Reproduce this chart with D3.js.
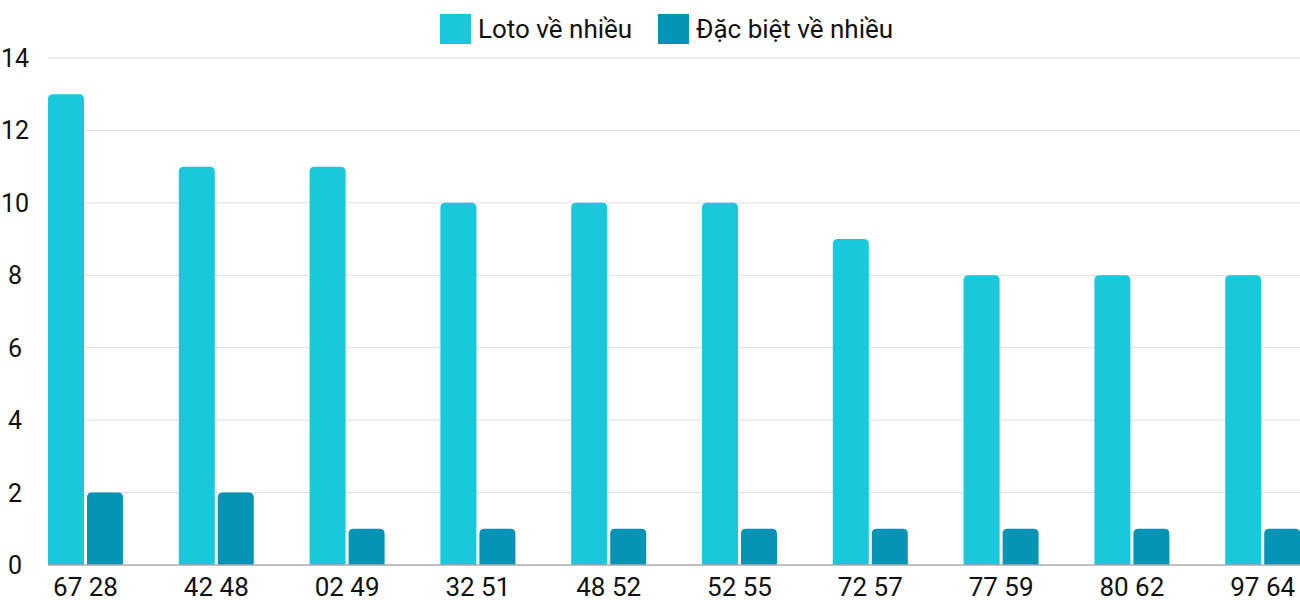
<!DOCTYPE html>
<html><head><meta charset="utf-8">
<script src="https://cdn.jsdelivr.net/npm/d3@7"></script>
<style>body{margin:0;background:#fff;font-family:Roboto,sans-serif}</style>
</head><body><svg id="chart" width="1300" height="600"></svg>
<script>
var categories = ["67 28","42 48","02 49","32 51","48 52","52 55","72 57","77 59","80 62","97 64"];
var loto = [13,11,11,10,10,10,9,8,8,8];
var dacbiet = [2,2,1,1,1,1,1,1,1,1];
var yTicks = [0,2,4,6,8,10,12,14];
var seriesNames = ["Loto về nhiều","Đặc biệt về nhiều"];
var colors = ["#1ac8db","#0593b6"];

var svg = d3.select("#chart");
var x = d3.scaleBand().domain(categories).range([48, 48 + 10 * 130.8]);
var y = d3.scaleLinear().domain([0,14]).range([565, 58]);
var barW = 36;

// grid
svg.selectAll(".grid").data(yTicks.slice(1)).enter().append("line")
  .attr("x1", 48).attr("x2", 1300).attr("y1", d => y(d)).attr("y2", d => y(d))
  .attr("stroke", "#dedede").attr("stroke-width", 1);

svg.selectAll(".ylab").data(yTicks).enter().append("text")
  .attr("x", 15).attr("y", d => y(d) + 9).attr("text-anchor", "middle")
  .attr("font-size", 25).attr("fill", "#111").text(d => d);

function topRounded(x0, y0, w, h, r) {
  r = Math.min(r, h);
  return "M" + x0 + "," + (y0 + h) + "V" + (y0 + r) + "Q" + x0 + "," + y0 + " " + (x0 + r) + "," + y0 +
    "H" + (x0 + w - r) + "Q" + (x0 + w) + "," + y0 + " " + (x0 + w) + "," + (y0 + r) + "V" + (y0 + h) + "Z";
}

[loto, dacbiet].forEach(function(vals, s) {
  svg.selectAll(".bar" + s).data(vals).enter().append("path")
    .attr("fill", colors[s])
    .attr("d", (d, i) => topRounded(x(categories[i]) + s * (barW + 3), y(d), barW, y(0) - y(d), 5));
});

svg.append("line").attr("x1", 48).attr("x2", 1300).attr("y1", y(0)).attr("y2", y(0))
  .attr("stroke", "#aaa").attr("stroke-width", 1.5);

svg.selectAll(".xlab").data(categories).enter().append("text")
  .attr("x", d => x(d) + 37.5).attr("y", 596).attr("text-anchor", "middle")
  .attr("font-size", 26).attr("fill", "#111").text(d => d);

// legend
var lg = [{x: 440, t: seriesNames[0]}, {x: 658, t: seriesNames[1]}];
lg.forEach(function(l, i) {
  svg.append("rect").attr("x", l.x).attr("y", 14).attr("width", 31).attr("height", 30).attr("fill", colors[i]);
  svg.append("text").attr("x", l.x + 38).attr("y", 38).attr("font-size", 26).attr("fill", "#111").text(l.t);
});
</script></body></html>
